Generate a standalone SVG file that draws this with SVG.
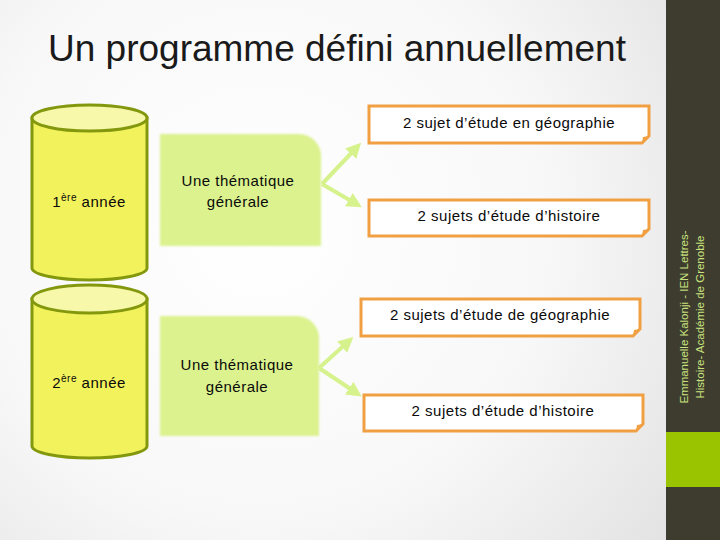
<svg xmlns="http://www.w3.org/2000/svg" width="720" height="540" viewBox="0 0 720 540">
<defs>
  <radialGradient id="bg" cx="260" cy="230" r="520" gradientUnits="userSpaceOnUse">
    <stop offset="0" stop-color="#ffffff"/>
    <stop offset="0.55" stop-color="#f8f8f8"/>
    <stop offset="1" stop-color="#e2e2e2"/>
  </radialGradient>
  <marker id="ah" viewBox="0 0 10 10" refX="7" refY="5" markerWidth="3.8" markerHeight="3.8" orient="auto" markerUnits="strokeWidth">
    <path d="M0,0 L10,5 L0,10 Z" fill="#d6f28c"/>
  </marker>
  <filter id="soft" x="-5%" y="-5%" width="110%" height="110%">
    <feGaussianBlur stdDeviation="1.2"/>
  </filter>
</defs>
<style>
  .cyl { fill: #f2f25c; stroke: #84980e; stroke-width: 3; }
  .cyltop { fill: #f7f8aa; stroke: #84980e; stroke-width: 3; }
  .theme { fill: #dbf28e; filter: url(#soft); }
  .box { fill: #ffffff; stroke: #f0a043; stroke-width: 3; stroke-linejoin: miter; }
  .fold { fill: #f0a043; }
  .lbl { font-family: "Liberation Sans", Arial, sans-serif; font-size: 15px; fill: #0a0a0a; letter-spacing: 0.5px; }
  .arr { stroke: #d6f28c; stroke-width: 4; fill: none; marker-end: url(#ah); }
  .side { font-family: "Liberation Sans", Arial, sans-serif; font-size: 11.5px; fill: #c9e27e; }
</style>
<rect x="0" y="0" width="720" height="540" fill="url(#bg)"/>
<rect x="666" y="0" width="54" height="540" fill="#3e3c2f"/>
<rect x="666" y="432" width="54" height="55" fill="#9bc400"/>
<text class="side" transform="translate(688,317) rotate(-90)" text-anchor="middle">Emmanuelle Kalonji - IEN Lettres-<tspan x="0" dy="16">Histoire- Académie de Grenoble</tspan></text>

<text x="48" y="61" font-family="Liberation Sans, Arial, sans-serif" font-size="37" fill="#1a1a1a">Un programme défini annuellement</text>

<g id="connectors">
  <path class="arr" d="M322,184 L358,146"/>
  <path class="arr" d="M322,184 L358,205"/>
  <path class="arr" d="M319,368 L350,340"/>
  <path class="arr" d="M319,368 L358,394"/>
</g>

<g id="year1">
  <path class="cyl" d="M32,118 L32,268 A57.5,12 0 0 0 147,268 L147,118 Z"/>
  <ellipse class="cyltop" cx="89.5" cy="118" rx="57.5" ry="13"/>
  <text class="lbl" x="89" y="207" text-anchor="middle">1<tspan font-size="10" dy="-6">ère</tspan><tspan dy="6"> année</tspan></text>
</g>
<g id="theme1">
  <path class="theme" d="M160,134 L299,134 A22,22 0 0 1 321,156 L321,246 L160,246 Z"/>
  <text class="lbl" x="238" y="186" text-anchor="middle">Une thématique</text>
  <text class="lbl" x="238" y="207" text-anchor="middle">générale</text>
</g>
<g id="geo1">
  <path class="box" d="M369,106 L649,106 L649,136 L642,143 L369,143 Z"/>
  <path class="fold" d="M649,136 L642,143 L643,137 Z"/>
  <text class="lbl" x="509" y="128" text-anchor="middle">2 sujet d’étude en géographie</text>
</g>
<g id="hist1">
  <path class="box" d="M369,200 L649,200 L649,229 L642,236 L369,236 Z"/>
  <path class="fold" d="M649,229 L642,236 L643,230 Z"/>
  <text class="lbl" x="509" y="221" text-anchor="middle">2 sujets d’étude d’histoire</text>
</g>

<g id="year2">
  <path class="cyl" d="M32,299 L32,446 A57.5,12 0 0 0 147,446 L147,299 Z"/>
  <ellipse class="cyltop" cx="89.5" cy="299" rx="57.5" ry="14"/>
  <text class="lbl" x="89" y="388" text-anchor="middle">2<tspan font-size="10" dy="-6">ère</tspan><tspan dy="6"> année</tspan></text>
</g>
<g id="theme2">
  <path class="theme" d="M160,316 L297,316 A22,22 0 0 1 319,338 L319,436 L160,436 Z"/>
  <text class="lbl" x="237" y="370" text-anchor="middle">Une thématique</text>
  <text class="lbl" x="237" y="392" text-anchor="middle">générale</text>
</g>
<g id="geo2">
  <path class="box" d="M361,299 L640,299 L640,329 L633,336 L361,336 Z"/>
  <path class="fold" d="M640,329 L633,336 L634,330 Z"/>
  <text class="lbl" x="500" y="320" text-anchor="middle">2 sujets d’étude de géographie</text>
</g>
<g id="hist2">
  <path class="box" d="M364,395 L643,395 L643,424 L636,431 L364,431 Z"/>
  <path class="fold" d="M643,424 L636,431 L637,425 Z"/>
  <text class="lbl" x="503" y="416" text-anchor="middle">2 sujets d’étude d’histoire</text>
</g>
</svg>
